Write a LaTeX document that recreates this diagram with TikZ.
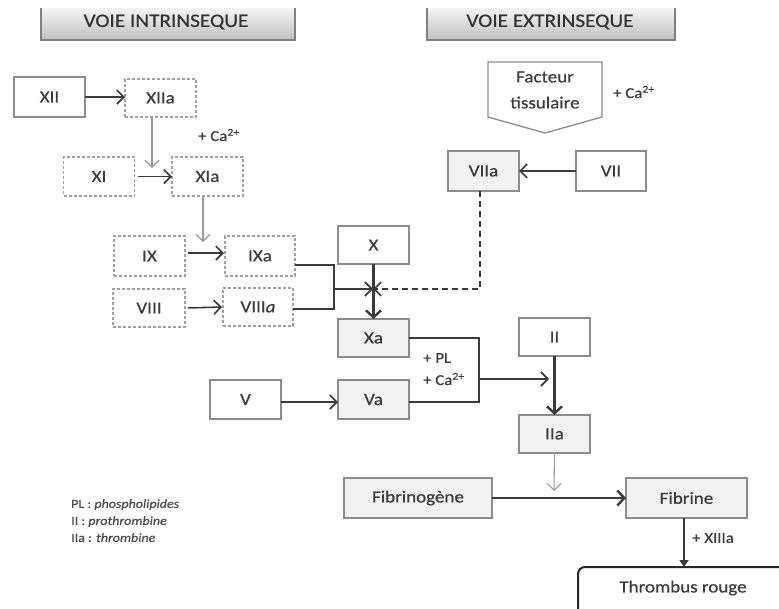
\documentclass[tikz,border=0pt]{standalone}
\usepackage{fontspec}
\setmainfont{Carlito}[FakeStretch=1.12, FakeBold=0.6]
\usetikzlibrary{arrows.meta}
\definecolor{txt}{HTML}{3C3C3C}
\definecolor{bord}{HTML}{8C8C8C}
\definecolor{dbord}{HTML}{A0A0A0}
\definecolor{boxfill}{HTML}{F2F2F2}
\definecolor{arr}{HTML}{3A3A3A}
\definecolor{garr}{HTML}{9A9A9A}
\tikzset{
  base/.style={inner sep=0pt, outer sep=0pt, text=txt, font=\fontsize{17}{20}\selectfont, minimum width=71pt, minimum height=39pt},
  solidbox/.style={base, draw=bord, line width=1.3pt, fill=white},
  dashbox/.style={base, draw=dbord, line width=1.2pt, dash pattern=on 3pt off 2pt, fill=white},
  graybox/.style={base, draw=bord, line width=1.3pt, fill=boxfill},
  lbl/.style={text=txt, inner sep=0pt, font=\fontsize{15}{18}\selectfont},
  thinarrow/.style={draw=arr, line width=1.6pt, -{Straight Barb[length=7pt,width=14pt,line width=1.6pt]}},
  grayarrow/.style={draw=garr, line width=1.1pt, -{Straight Barb[length=7pt,width=14pt,line width=1.1pt]}},
  thickarrow/.style={draw=arr, line width=2.4pt, -{Straight Barb[length=7pt,width=15pt,line width=2.4pt]}},
  plainline/.style={draw=arr, line width=1.8pt},
  header/.style={inner sep=0pt, text=black!80, font=\fontsize{19}{21}\selectfont},
}
\begin{document}
\begin{tikzpicture}[x=1pt,y=-1pt]
\clip (0,0) rectangle (779,608);
\fill[white] (0,0) rectangle (779,608);

% headers
\shade[top color=black!4, bottom color=black!25] (41,8) rectangle (295,40);
\draw[black!50, line width=1.6pt] (41,8) -- (41,40) -- (295,40) -- (295,8);
\node[header] (h1) at (166,22) {VOIE INTRINSEQUE};
\shade[top color=black!4, bottom color=black!25] (427,8) rectangle (675,40);
\draw[black!50, line width=1.6pt] (427,8) -- (427,40) -- (675,40) -- (675,8);
\node[header] (h2) at (550,22) {VOIE EXTRINSEQUE};

% intrinsic
\node[solidbox, minimum height=40pt] (XII) at (49.5,97) {XII};
\node[dashbox, minimum height=38pt] (XIIa) at (160.5,98) {XIIa};
\node[dashbox] (XI) at (99,176.5) {XI};
\node[dashbox] (XIa) at (207.5,176.5) {XIa};
\node[dashbox, minimum height=40pt] (IX) at (149.5,256) {IX};
\node[dashbox, minimum width=70pt, minimum height=40pt] (IXa) at (260,256) {IXa};
\node[dashbox, minimum width=72pt, minimum height=38pt] (VIII) at (149,308) {VIII};
\node[dashbox, minimum width=70pt, minimum height=38pt] (VIIIa) at (258,307) {VIII\textit{a}};

\node[lbl, anchor=west] (ca1) at (198,135) {+ Ca\textsuperscript{2+}};

\draw[thinarrow] (XII.east) -- (XII.east -| XIIa.west);
\coordinate (c1) at (152,168);
\draw[grayarrow] (XIIa.south -| c1) -- (c1);
\draw[thinarrow, shorten <=3pt] (XI.east) -- (XIa.west);
\coordinate (c2) at (203,242);
\draw[grayarrow] (XIa.south -| c2) -- (c2);
\draw[thinarrow, shorten <=3pt, shorten >=1pt] (IX.east |- 0,253) -- (IXa.west |- 0,253);
\draw[thinarrow, shorten <=3pt, shorten >=1pt] (VIII.east) -- (VIIIa.west);

% X junction
\node[solidbox, minimum height=38pt] (X) at (373.5,245) {X};
\node[graybox, minimum height=38pt] (Xa) at (373.5,338) {Xa};
\coordinate (b1) at (334,289);
\coordinate (jx) at (373,289);
\draw[plainline] ([yshift=-9pt]IXa.east) -| (b1) |- ([yshift=-2pt]VIIIa.east);
\draw[thinarrow] (b1) -- (jx);
\draw[thickarrow] (X.south) -- (Xa.north);

% extrinsic
\draw[draw=bord, line width=1.3pt, fill=white] (488,62) -- (602,62) -- (602,117) -- (545,133) -- (488,117) -- cycle;
\node[text=txt, font=\fontsize{17}{26}\selectfont, align=center, inner sep=0pt] (TF) at (545,90) {Facteur\\tissulaire};
\node[lbl, anchor=west] (ca2) at (613,92) {+ Ca\textsuperscript{2+}};
\node[graybox, minimum height=40pt] (VIIa) at (483.5,171) {VIIa};
\node[solidbox, minimum width=70pt, minimum height=40pt] (VII) at (611,171) {VII};
\draw[thinarrow] (VII.west) -- (VIIa.east);
\draw[draw=arr, line width=1.6pt, dash pattern=on 6pt off 4pt, -{Straight Barb[length=7pt,width=14pt,line width=1.6pt]}] ([xshift=-3.5pt]VIIa.south) |- (jx);

% common pathway
\node[solidbox] (V) at (245.5,399.5) {V};
\node[graybox] (Va) at (373.5,399.5) {Va};
\draw[thinarrow] ([yshift=-2.5pt]V.east) -- ([yshift=-2.5pt]Va.west);
\coordinate (b2) at (479,379);
\coordinate (c3) at (549,379);
\draw[plainline] (Xa.east) -| (b2) |- ([yshift=-2.5pt]Va.east);
\draw[thinarrow] (b2) -- (c3);
\node[lbl, anchor=west] (pl) at (423,358) {+ PL};
\node[lbl, anchor=west] (ca3) at (423,379) {+ Ca\textsuperscript{2+}};

\node[solidbox, minimum height=38pt] (II) at (554.5,337) {II};
\node[graybox, minimum height=38pt] (IIa) at (554.5,434) {IIa};
\draw[thickarrow] (II.south) -- (IIa.north);
\coordinate (c4) at (554,491);
\draw[grayarrow] (IIa.south) -- (c4);

\node[graybox, minimum width=148pt, minimum height=40pt] (Fg) at (418,498) {Fibrinogène};
\node[graybox, minimum width=121pt, minimum height=40pt] (Fb) at (686.5,498) {Fibrine};
\draw[thickarrow] (Fg.east) -- (Fb.west);

\node[text=txt, font=\fontsize{17}{20}\selectfont, inner sep=0pt] (TR) at (683,588) {Thrombus rouge};
\coordinate (trtop) at (684,567);
\draw[draw=black!85, line width=2pt, rounded corners=7pt] (578,615) -- (578,567) -- (790,567);
\draw[draw=arr, line width=2pt, -{Triangle[length=7pt,width=9pt]}] (Fb.south -| trtop) -- (trtop);
\node[lbl, anchor=west] (x13) at (692,538) {+ XIIIa};

% legend
\node[text=black!70, font=\fontsize{12.5}{17}\selectfont, align=left, anchor=north west, inner sep=0pt] (leg) at (71,499) {PL : \textit{phospholipides}\\II : \textit{prothrombine}\\IIa : \textit{thrombine}};
\end{tikzpicture}
\end{document}
